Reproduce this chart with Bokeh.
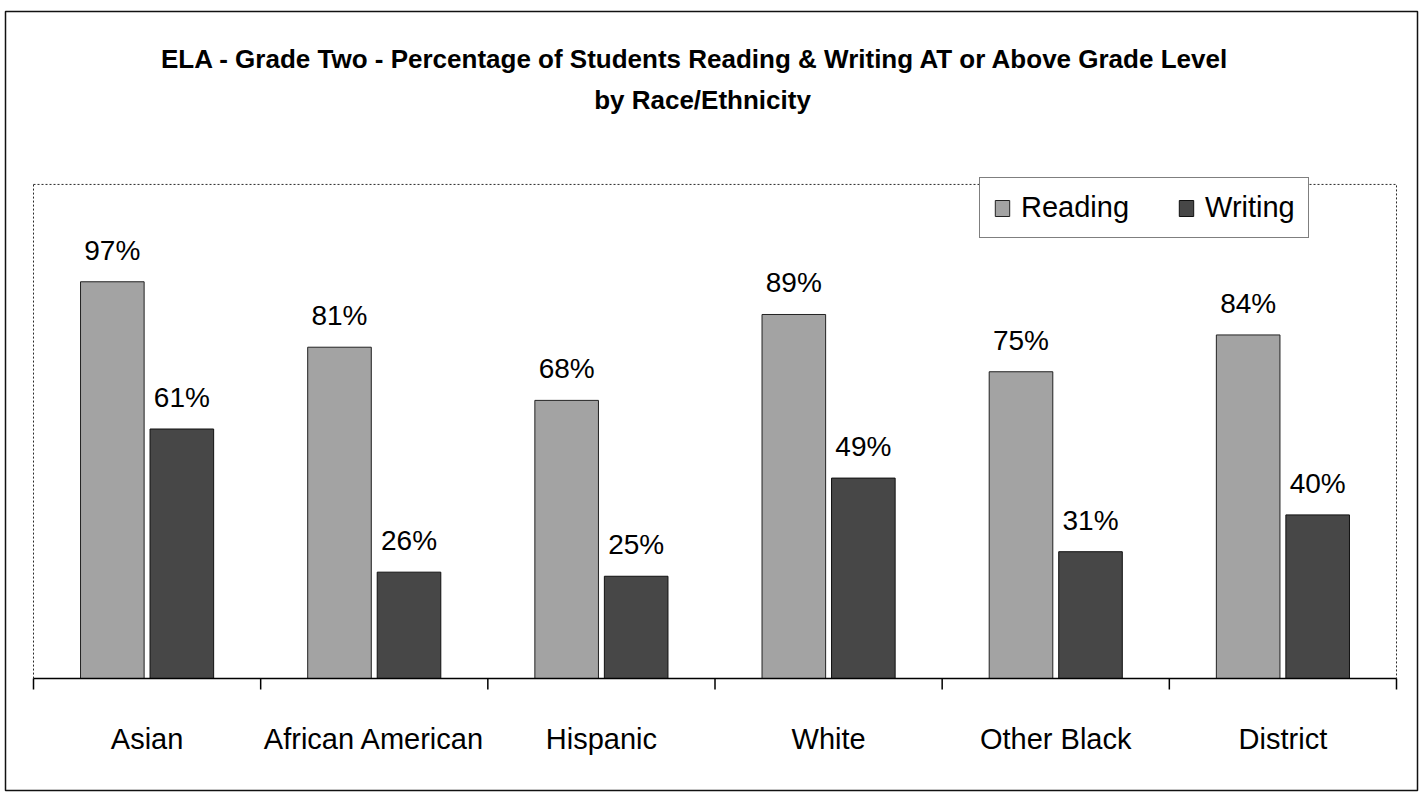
from math import pi
from bokeh.plotting import figure
from bokeh.models import (Range1d, Label, LabelSet, BoxAnnotation,
                          Legend, LegendItem, ColumnDataSource)
from bokeh.core.properties import value
from bokeh.embed import file_html
from bokeh.resources import INLINE

# ---- data -------------------------------------------------------------
categories = ["Asian", "African American", "Hispanic", "White", "Other Black", "District"]
reading = [97, 81, 68, 89, 75, 84]
writing = [61, 26, 25, 49, 31, 40]
series_names = ["Reading", "Writing"]
title_lines = [
    "ELA - Grade Two - Percentage of Students Reading & Writing AT or Above Grade Level",
    "by Race/Ethnicity",
]
Y_MAX = 120.8          # top of the plotting area, in percent

# ---- styling ----------------------------------------------------------
FONT = "Liberation Sans"
READ_COLOR = "#a3a3a3"
WRITE_COLOR = "#474747"
BAR_W = 0.28
OFFSET = 0.153

W, H = 1424, 793
# the frame is the outer chart box; the bar area sits inside it
BOX_L, BOX_R, BOX_T, BOX_B = 5, 1417, 11, 790
AREA_L, AREA_R, BASE_Y = 33, 1396, 678
PX_PER_PCT = 4.09
px_per_cat = (AREA_R - AREA_L) / len(categories)

x_range = Range1d(-(AREA_L - BOX_L) / px_per_cat,
                  len(categories) + (BOX_R - AREA_R) / px_per_cat)
y_range = Range1d(-(BOX_B - BASE_Y) / PX_PER_PCT, (BASE_Y - BOX_T) / PX_PER_PCT)

centers = [i + 0.5 for i in range(len(categories))]
bounds = list(range(len(categories) + 1))
src_r = ColumnDataSource(dict(
    x=[c - OFFSET for c in centers], top=reading,
    lbl=[f"{v}%" for v in reading]))
src_w = ColumnDataSource(dict(
    x=[c + OFFSET for c in centers], top=writing,
    lbl=[f"{v}%" for v in writing]))
src_cat = ColumnDataSource(dict(x=centers, y=[0] * len(centers), name=categories))

p = figure(width=W, height=H, output_backend="svg", toolbar_location=None,
           x_range=x_range, y_range=y_range,
           x_axis_location=None, y_axis_location=None, title=None,
           min_border_left=BOX_L, min_border_right=W - BOX_R,
           min_border_top=BOX_T, min_border_bottom=H - BOX_B)
p.background_fill_color = "white"
p.border_fill_color = "white"
p.xgrid.visible = False
p.ygrid.visible = False
p.outline_line_color = "#111111"
p.outline_line_width = 1.5

# dotted border of the plotting area
p.add_layout(BoxAnnotation(left=0, right=len(categories), bottom=0, top=Y_MAX,
                           fill_alpha=0, line_color="#2a2a2a", line_alpha=1,
                           line_width=1, line_dash="2 2", level="underlay"))

# bars
r_read = p.vbar(x="x", top="top", bottom=0, width=BAR_W, source=src_r,
                fill_color=READ_COLOR, line_color="#222222", line_width=1)
r_write = p.vbar(x="x", top="top", bottom=0, width=BAR_W, source=src_w,
                 fill_color=WRITE_COLOR, line_color="#111111", line_width=1)

# value labels above bars
for src in (src_r, src_w):
    p.add_layout(LabelSet(x="x", y="top", text="lbl", source=src,
                          text_align="center", text_baseline="alphabetic",
                          y_offset=22, text_font=value(FONT),
                          text_font_size="28px", text_color="black"))

# category axis: baseline, boundary ticks and names
p.segment(x0=[bounds[0]], x1=[bounds[-1]], y0=[0], y1=[0],
          line_color="black", line_width=1.5)
p.ray(x=bounds, y=[0] * len(bounds), length=11, length_units="screen",
      angle=-pi / 2, line_color="black", line_width=1.5)
p.add_layout(LabelSet(x="x", y="y", text="name", source=src_cat,
                      text_align="center", text_baseline="alphabetic",
                      y_offset=-70, text_font=value(FONT),
                      text_font_size="29px", text_color="black"))

# legend
legend = Legend(items=[LegendItem(label=series_names[0], renderers=[r_read]),
                       LegendItem(label=series_names[1], renderers=[r_write])],
                orientation="horizontal", location=(974, 552),
                padding=13, spacing=48, label_standoff=10, margin=0,
                glyph_width=18, glyph_height=20,
                label_text_font=FONT, label_text_font_size="29px",
                label_text_color="black",
                border_line_color="black", border_line_width=1.5,
                background_fill_color="white", background_fill_alpha=1)
p.add_layout(legend)

# two-line title
for txt, cx, base in ((title_lines[0], 695, 58), (title_lines[1], 702, 99)):
    p.add_layout(Label(x=cx - BOX_L, y=BOX_B - base,
                       x_units="screen", y_units="screen",
                       text=txt, text_align="center", text_baseline="alphabetic",
                       text_font=FONT, text_font_size="26px",
                       text_font_style="bold", text_color="black"))

open("out.html", "w").write(file_html(p, INLINE))
